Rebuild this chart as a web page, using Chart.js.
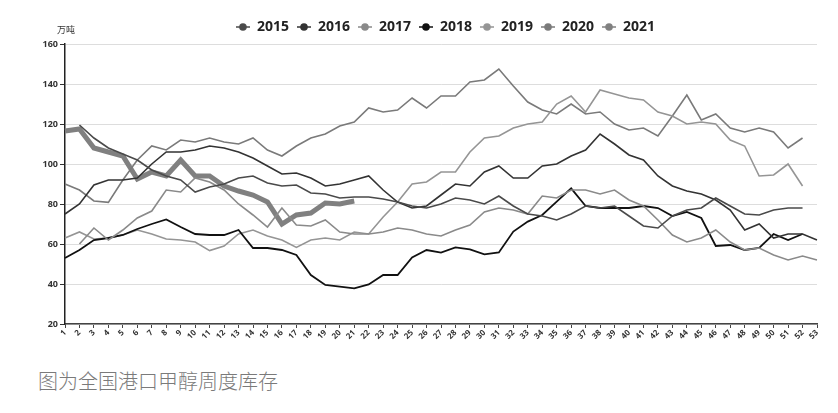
<!DOCTYPE html>
<html>
<head>
<meta charset="utf-8">
<script src="https://cdn.jsdelivr.net/npm/chart.js"></script>
<style>
  html, body { margin: 0; padding: 0; background: #fff; width: 838px; height: 413px; overflow: hidden; }
  #wrap { position: absolute; left: 0; top: 0; width: 838px; height: 350px; }
  #cap { position: absolute; left: 38px; top: 366px; font-family: "Noto Sans CJK SC", sans-serif; font-size: 20px; line-height: 30px; color: #7a7a7a; font-weight: 300; }
</style>
</head>
<body>
<div id="wrap"><canvas id="stockChart"></canvas></div>
<div id="cap">图为全国港口甲醇周度库存</div>
<script>
// week numbers on the x axis
const weeks = ['1','2','3','4','5','6','7','8','9','10','11','12','13','14','15','16','17','18','19','20',
  '21','22','23','24','25','26','27','28','29','30','31','32','33','34','35','36','37','38','39','40',
  '41','42','43','44','45','46','47','48','49','50','51','52','53'];

// weekly port stock, 万吨
const y2015 = [null, 119.5, 113, 108, 105, 102, 97, 94, 92, 86, 88.5, 90, 93, 94, 90.5, 89, 89.5, 85.5, 85, 83,
  83.5, 83.5, 82.5, 81, 79, 78, 80, 83, 82, 80, 84, 79, 75, 74, 72, 75, 79, 78, 79, 74,
  69, 68, 74, 77, 78, 83, 79, 75, 74.5, 77, 78, 78, null];
const y2016 = [75, 80, 89.5, 92, 92, 93, 100, 106, 106, 107, 109, 108, 106, 103, 99, 95, 95.5, 93, 89, 90,
  92, 94, 87, 81, 78, 79, 84.5, 90, 89, 96, 99, 93, 93, 99, 100, 104, 107, 115, 110, 104.5,
  102, 94, 89, 86.5, 85, 82, 77, 67, 70, 63, 65, 65, 62];
const y2017 = [null, 60, 68, 62, 67, 73, 76.5, 87, 86, 93, 91, 87, 80, 74.5, 68.5, 78, 69.5, 69, 72, 66,
  65, 65, 66, 68, 67, 65, 64, 67, 69.5, 76, 78, 77, 75, 84, 83, 87, 87, 85, 87, 82,
  79, 72, 64.5, 61, 63, 67, 61, 57, 58, 54.5, 52, 54, 52];
const y2018 = [53, 57, 62, 63, 64.5, 67.5, 70, 72.3, 68.5, 65, 64.5, 64.5, 67, 58, 58, 57, 54.5, 44.5, 39.5, 38.7,
  37.8, 39.8, 44.5, 44.5, 53.3, 57, 55.7, 58.3, 57.3, 54.8, 55.8, 66.2, 71.2, 74.5, 81.2, 87.8, 79, 78, 78, 78,
  79, 78, 74, 76, 73, 59, 59.5, 57, 58, 65, 62, 65, null];
const y2019 = [63, 66, 62.5, 63, 64.5, 67, 65, 62.5, 62, 61, 56.7, 59, 65, 67, 64, 62, 58.3, 62, 63, 62,
  66, 65, 73.5, 81, 90, 91, 96, 96, 106, 113, 114, 118, 120, 121, 130, 134, 126, 137, 135, 133,
  132, 126, 124, 120, 121, 120, 112, 109, 94, 94.5, 100, 89, null];
const y2020 = [90, 87, 81.5, 80.8, 92, 102, 109, 107, 112, 111, 113, 111, 110, 113, 107, 104, 109, 113, 115, 119,
  121, 128, 126, 127, 133, 128, 134, 134, 141, 142, 147.5, 139, 131, 127, 125, 130, 125, 126, 120, 117,
  118, 114, 124, 134.5, 122, 125, 118, 116, 118, 116, 108, 113, null];
const y2021 = [116.5, 117.5, 108, 106, 104, 92.5, 96, 94, 102, 94, 94, 89, 86.5, 84.5, 81, 70, 74.5, 75.5, 80.5, 80, 81.5];

const years = ['2015', '2016', '2017', '2018', '2019', '2020', '2021'];
const series = [y2015, y2016, y2017, y2018, y2019, y2020, y2021];
const lineColors = ['#4a4a4a', '#333333', '#8a8a8a', '#111111', '#959595', '#7a7a7a', '#808080'];
const lineWidths = [1.6, 1.6, 1.6, 1.8, 1.6, 1.6, 5];

// legend marker: a short line with a dot
function marker(color) {
  const c = document.createElement('canvas');
  c.width = 14; c.height = 10;
  const g = c.getContext('2d');
  g.strokeStyle = color; g.lineWidth = 1.5;
  g.beginPath(); g.moveTo(0, 5); g.lineTo(14, 5); g.stroke();
  g.fillStyle = color;
  g.beginPath(); g.arc(7, 5, 3.8, 0, Math.PI * 2); g.fill();
  return c;
}

// unit label above the y axis, and legend nudged right like the original
const extras = {
  id: 'extras',
  afterLayout(chart) {
    chart.legend.left += 37;
    chart.legend.right += 37;
  },
  afterDraw(chart) {
    const ctx = chart.ctx;
    ctx.save();
    ctx.font = '9px "Noto Sans CJK SC", sans-serif';
    ctx.fillStyle = '#333';
    ctx.textAlign = 'left';
    ctx.textBaseline = 'middle';
    ctx.fillText('万吨', chart.chartArea.left - 8, chart.chartArea.top - 14);
    ctx.restore();
  }
};

Chart.defaults.font.family = '"Open Sans", "Noto Sans", sans-serif';

const stockChart = new Chart(document.getElementById('stockChart'), {
  type: 'line',
  data: {
    labels: weeks,
    datasets: years.map((y, i) => ({
      label: y,
      data: series[i],
      borderColor: lineColors[i],
      backgroundColor: lineColors[i],
      borderWidth: lineWidths[i],
      pointRadius: 0,
      tension: 0,
      fill: false
    }))
  },
  options: {
    responsive: true,
    maintainAspectRatio: false,
    animation: false,
    layout: { padding: { top: 12, right: 21, left: 0, bottom: 0 } },
    plugins: {
      legend: {
        position: 'top',
        labels: {
          usePointStyle: true,
          pointStyleWidth: 14,
          padding: 8,
          color: '#222',
          font: { size: 14, weight: 'bold' },
          generateLabels(chart) {
            return chart.data.datasets.map((ds, i) => ({
              text: ds.label,
              pointStyle: marker(lineColors[i]),
              fillStyle: lineColors[i],
              strokeStyle: lineColors[i],
              lineWidth: 0,
              fontColor: '#222',
              datasetIndex: i,
              hidden: false
            }));
          }
        }
      },
      tooltip: { enabled: false }
    },
    scales: {
      x: {
        grid: { drawOnChartArea: false, drawTicks: true, tickLength: 4, tickColor: '#444' },
        border: { color: '#444', width: 1.5 },
        ticks: {
          autoSkip: false, maxRotation: 45, minRotation: 45, padding: 0,
          color: '#333', font: { size: 8, weight: 'bold' }
        },
        afterFit(scale) { scale.height = 26; }
      },
      y: {
        min: 20, max: 160,
        ticks: { stepSize: 20, color: '#333', padding: 2, font: { size: 9, weight: 'bold' } },
        grid: { color: '#dddddd', tickColor: '#333', tickLength: 5 },
        border: { color: '#222', width: 1.5 },
        afterFit(scale) { scale.width = 65; }
      }
    }
  },
  plugins: [extras]
});
</script>
</body>
</html>
